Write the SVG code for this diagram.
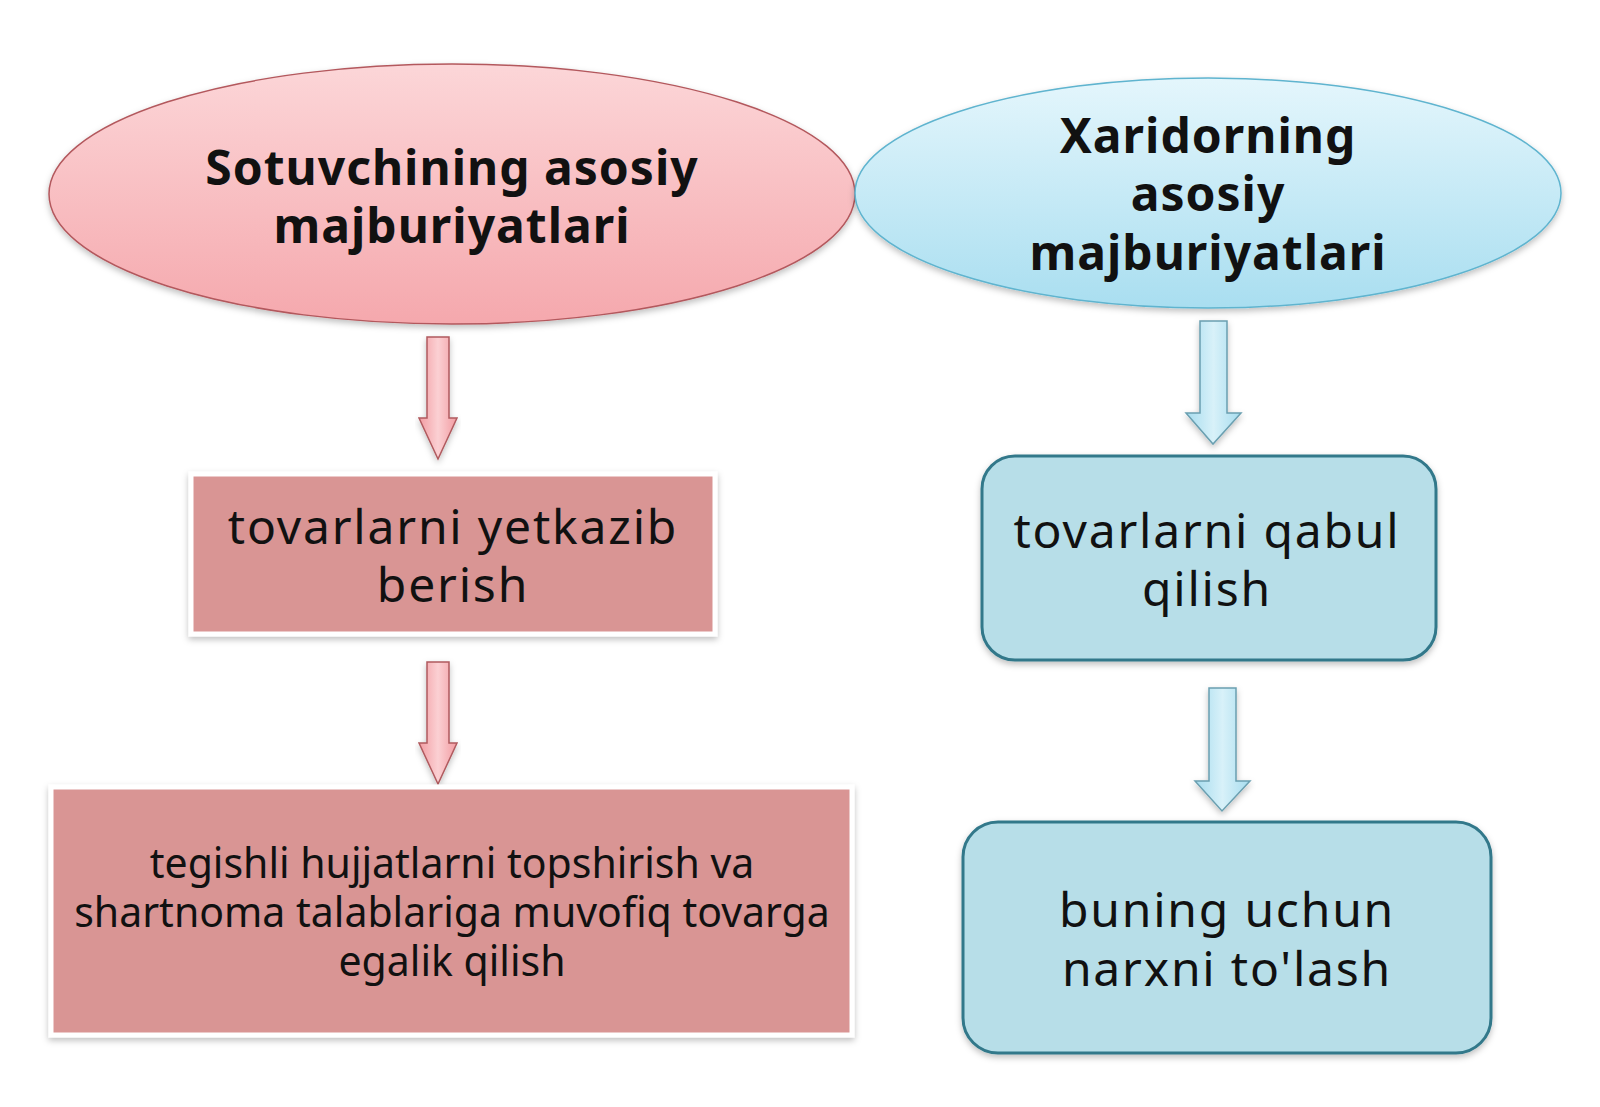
<svg xmlns="http://www.w3.org/2000/svg" width="1600" height="1107" viewBox="0 0 1600 1107">
<defs>
<style>
.t{font-family:"Noto Sans","Open Sans","DejaVu Sans",sans-serif;fill:#111;text-anchor:middle}
.h{font-weight:bold;font-size:48px;letter-spacing:1px}
.b{font-size:48px;letter-spacing:1.8px}
.s{font-size:41px}
.pbox{fill:#d99594;stroke:#ffffff;stroke-width:5}
.bbox{fill:#b7dee8;stroke:#31788a;stroke-width:3}
.parr{fill:url(#pa);stroke:#b05a5e;stroke-width:1.5}
.barr{fill:url(#ba);stroke:#6a9fb0;stroke-width:1.5}
</style>
<linearGradient id="pe" x1="0" y1="0" x2="0" y2="1"><stop offset="0" stop-color="#fcd6d8"/><stop offset="1" stop-color="#f5a8ad"/></linearGradient>
<linearGradient id="be" x1="0" y1="0" x2="0" y2="1"><stop offset="0" stop-color="#e4f6fc"/><stop offset="1" stop-color="#a9def0"/></linearGradient>
<linearGradient id="pa" x1="0" y1="0" x2="1" y2="0"><stop offset="0" stop-color="#f29ca2"/><stop offset="0.5" stop-color="#fbd0d3"/><stop offset="1" stop-color="#f29ca2"/></linearGradient>
<linearGradient id="ba" x1="0" y1="0" x2="1" y2="0"><stop offset="0" stop-color="#a6dcee"/><stop offset="0.5" stop-color="#d8f1f9"/><stop offset="1" stop-color="#a6dcee"/></linearGradient>
<filter id="sh" x="-10%" y="-10%" width="120%" height="130%"><feDropShadow dx="0" dy="3" stdDeviation="3" flood-color="#000" flood-opacity="0.25"/></filter>
</defs>
<rect width="1600" height="1107" fill="#ffffff"/>
<g id="connectors">
<path class="parr" d="M427,337 H449 V418 H457 L438,459 L419,418 H427 Z" filter="url(#sh)"/>
<path class="parr" d="M427,662 H449 V743 H457 L438,784 L419,743 H427 Z" filter="url(#sh)"/>
<path class="barr" d="M1200,321 H1227 V413 H1241 L1213,444 L1186,413 H1200 Z" filter="url(#sh)"/>
<path class="barr" d="M1209,688 H1236 V781 H1250 L1222,811 L1195,781 H1209 Z" filter="url(#sh)"/>
</g>
<g id="seller">
<ellipse cx="452" cy="194" rx="403" ry="130" fill="url(#pe)" stroke="#b3585d" stroke-width="1.5" filter="url(#sh)"/>
<text class="t h" x="452" y="185">Sotuvchining asosiy</text>
<text class="t h" x="452" y="243">majburiyatlari</text>
</g>
<g id="buyer">
<ellipse cx="1208" cy="193" rx="353" ry="115" fill="url(#be)" stroke="#5fb4cf" stroke-width="1.5" filter="url(#sh)"/>
<text class="t h" x="1208" y="153">Xaridorning</text>
<text class="t h" x="1208" y="211">asosiy</text>
<text class="t h" x="1208" y="270">majburiyatlari</text>
</g>
<g id="seller1">
<rect class="pbox" x="191" y="474" width="524" height="160" filter="url(#sh)"/>
<text class="t b" x="453" y="544">tovarlarni yetkazib</text>
<text class="t b" x="453" y="602">berish</text>
</g>
<g id="seller2">
<rect class="pbox" x="51" y="787" width="801" height="248" filter="url(#sh)"/>
<text class="t s" x="452" y="878">tegishli hujjatlarni topshirish va</text>
<text class="t s" x="452" y="927">shartnoma talablariga muvofiq tovarga</text>
<text class="t s" x="452" y="976">egalik qilish</text>
</g>
<g id="buyer1">
<rect class="bbox" x="982" y="456" width="454" height="204" rx="33" filter="url(#sh)"/>
<text class="t b" x="1207" y="548">tovarlarni qabul</text>
<text class="t b" x="1207" y="606">qilish</text>
</g>
<g id="buyer2">
<rect class="bbox" x="963" y="822" width="528" height="231" rx="35" filter="url(#sh)"/>
<text class="t b" x="1227" y="927">buning uchun</text>
<text class="t b" x="1227" y="986">narxni to'lash</text>
</g>
</svg>
